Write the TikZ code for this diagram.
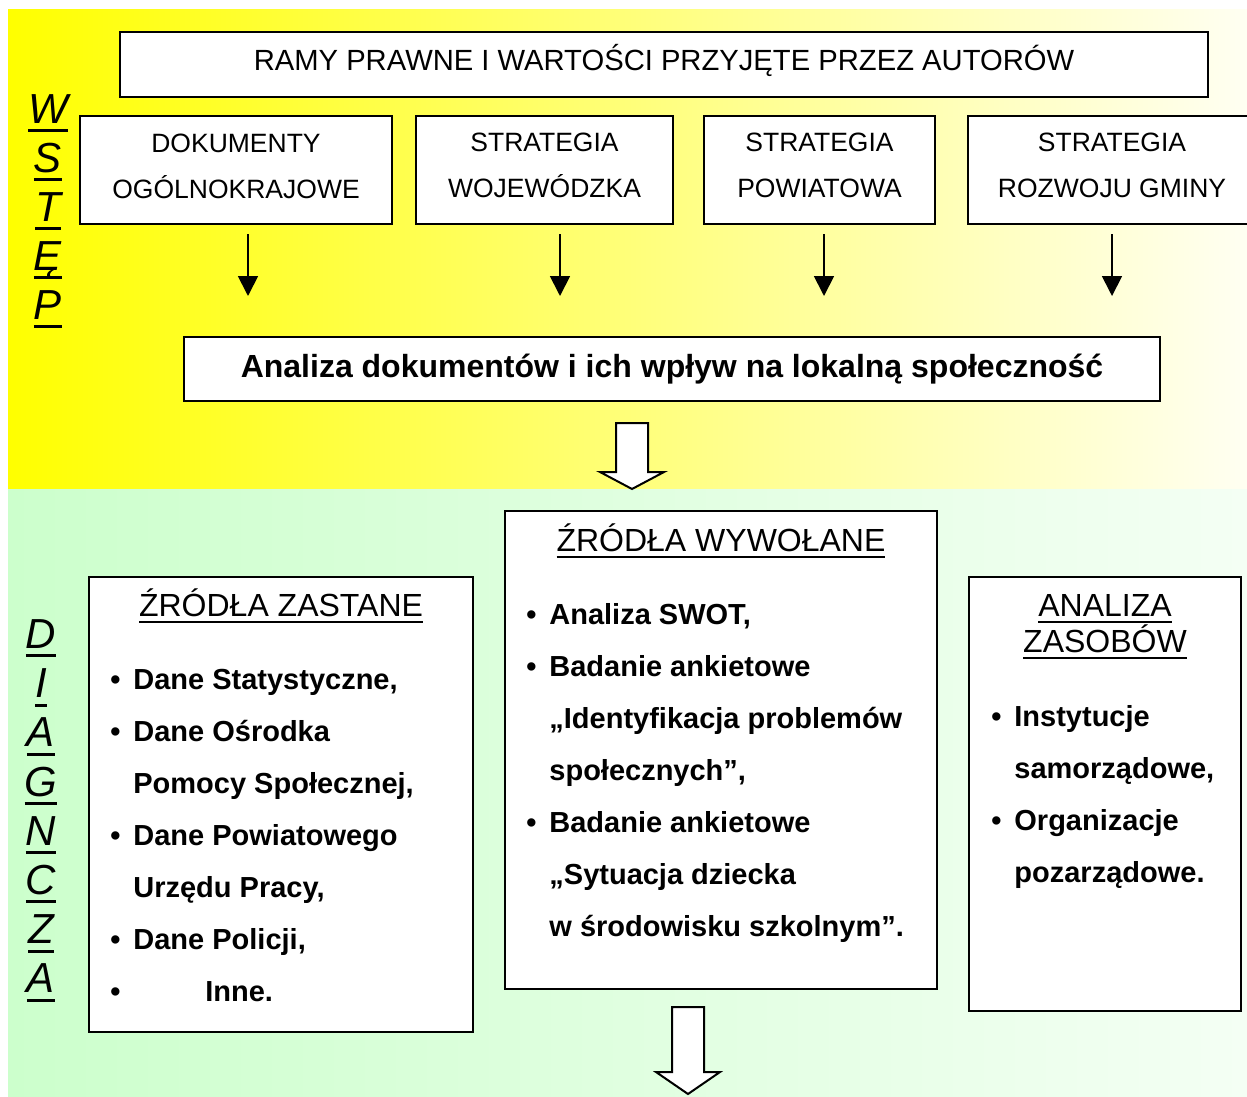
\documentclass[tikz,border=0pt]{standalone}
\usepackage{fontspec}
\setmainfont{Liberation Sans}
\usepackage{tikz}
\usetikzlibrary{calc,arrows.meta}

\definecolor{zolty}{RGB}{255,255,0}
\definecolor{zoltyjasny}{RGB}{255,255,242}
\definecolor{zielony}{RGB}{204,255,204}
\definecolor{zielonyjasny}{RGB}{244,255,244}

\newsavebox{\podbox}
\newcommand{\pk}[1]{\sbox{\podbox}{#1}\rlap{\smash{\rule[-3.5pt]{\wd\podbox}{1pt}}}\usebox{\podbox}}
\newcommand{\lit}[1]{\sbox{\podbox}{#1}\rlap{\smash{\rule[-4.5pt]{\wd\podbox}{1.5pt}}}\usebox{\podbox}}
\newcommand{\pkt}{\makebox[11.5pt][l]{\textbullet}}
\newcommand{\wc}{\hspace*{11.5pt}}
\newcommand{\dol}[1]{\rule[-#1]{0pt}{0pt}}

\begin{document}
\begin{tikzpicture}[x=0.5pt,y=-0.5pt,
  ramka/.style={draw=black, line width=1pt, fill=white, inner sep=0pt, align=center},
  zwykly/.style={font=\fontsize{13.25}{23}\selectfont},
  strz/.style={line width=0.9pt, -{Triangle[length=10pt,width=10pt]}},
  lista/.style={anchor=north west, inner sep=0pt, align=left, font=\bfseries\fontsize{14.5}{26}\selectfont},
  tytul/.style={anchor=base, inner sep=0pt, font=\fontsize{16}{18}\selectfont},
  boczny/.style={anchor=north, inner sep=0pt, align=center, font=\itshape\fontsize{21}{24.5}\selectfont},
  blok/.style={draw=black, line width=1pt, fill=white}]

\useasboundingbox (0,0) rectangle (1247,1097);

% tlo
\shade[left color=zolty, right color=zoltyjasny] (8,10) rectangle (1247,489);
\shade[left color=zielony, right color=zielonyjasny] (8,489) rectangle (1247,1097);

% wstep
\node[boczny] (wstep) at (48,89) {\rule{0pt}{17pt}\lit{W}\\\lit{S}\\\lit{T}\\\lit{Ę}\\\lit{P}};

\node[ramka, minimum width=544pt, minimum height=32.5pt, font=\fontsize{14.6}{17}\selectfont] (ramy) at (664,64.5) {RAMY PRAWNE I WARTOŚCI PRZYJĘTE PRZEZ AUTORÓW\dol{7pt}};

\node[ramka, zwykly, minimum width=156pt, minimum height=54pt] (dok) at (236,170) {DOKUMENTY\\OGÓLNOKRAJOWE\dol{4pt}};
\node[ramka, zwykly, minimum width=128.5pt, minimum height=54pt] (woj) at (544.5,170) {STRATEGIA\\WOJEWÓDZKA\dol{5pt}};
\node[ramka, zwykly, minimum width=115.5pt, minimum height=54pt] (pow) at (819.5,170) {STRATEGIA\\POWIATOWA\dol{5pt}};
\node[ramka, zwykly, minimum width=144pt, minimum height=54pt] (gmina) at (1112,170) {STRATEGIA\\ROZWOJU GMINY\dol{5pt}};

\node[ramka, minimum width=488pt, minimum height=32pt, font=\bfseries\fontsize{16}{19}\selectfont] (analiza) at (672,369) {Analiza dokumentów i ich wpływ na lokalną społeczność};

\foreach \n/\dx in {dok/12,woj/15.5,pow/4.5,gmina/0}
  \draw[strz] ($(\n.south)+(\dx,9)$) -- ($(\n.south |- analiza.north)+(\dx,-40)$);

\draw[blok] (616,423) -- (648,423) -- (648,472) -- (664,472) -- (632,489) -- (600,472) -- (616,472) -- cycle;

% diagnoza
\node[boczny, font=\itshape\fontsize{21}{24.6}\selectfont] (diagnoza) at (41,614) {\rule{0pt}{17pt}\lit{D}\\\lit{I}\\\lit{A}\\\lit{G}\\\lit{N}\\\lit{C}\\\lit{Z}\\\lit{A}};

\node[ramka, anchor=north west, minimum width=192pt, minimum height=227.5pt] (zastane) at (88,576) {};
\node[ramka, anchor=north west, minimum width=216pt, minimum height=239pt] (wywolane) at (504,510) {};
\node[ramka, anchor=north west, minimum width=136pt, minimum height=217pt] (zasoby) at (968,576) {};

\node[tytul] (tzastane) at ($(zastane.north)+(0,40)$) {\pk{ŹRÓDŁA ZASTANE}};
\node[tytul] (twywolane) at ($(wywolane.north)+(0,41)$) {\pk{ŹRÓDŁA WYWOŁANE}};
\node[tytul, anchor=north, align=center] (tzasoby) at ($(zasoby.north)+(0,16)$) {\rule{0pt}{12pt}\pk{ANALIZA}\\\pk{ZASOBÓW}};

\node[lista] (lzastane) at ($(zastane.north west)+(22,83)$) {\rule{0pt}{15pt}\pkt Dane Statystyczne,\\\pkt Dane Ośrodka\\\wc Pomocy Społecznej,\\\pkt Dane Powiatowego\\\wc Urzędu Pracy,\\\pkt Dane Policji,\\\pkt\hspace{36pt}Inne.};
\node[lista] (lwywolane) at ($(wywolane.north west)+(22,84)$) {\rule{0pt}{15pt}\pkt Analiza SWOT,\\\pkt Badanie ankietowe\\\wc „Identyfikacja problemów\\\wc społecznych”,\\\pkt Badanie ankietowe\\\wc „Sytuacja dziecka\\\wc w środowisku szkolnym”.};
\node[lista] (lzasoby) at ($(zasoby.north west)+(23,120)$) {\rule{0pt}{15pt}\pkt Instytucje\\\wc samorządowe,\\\pkt Organizacje\\\wc pozarządowe.};

\draw[blok] (672,1007) -- (704,1007) -- (704,1072) -- (720,1072) -- (688,1094) -- (656,1072) -- (672,1072) -- cycle;

\end{tikzpicture}
\end{document}
